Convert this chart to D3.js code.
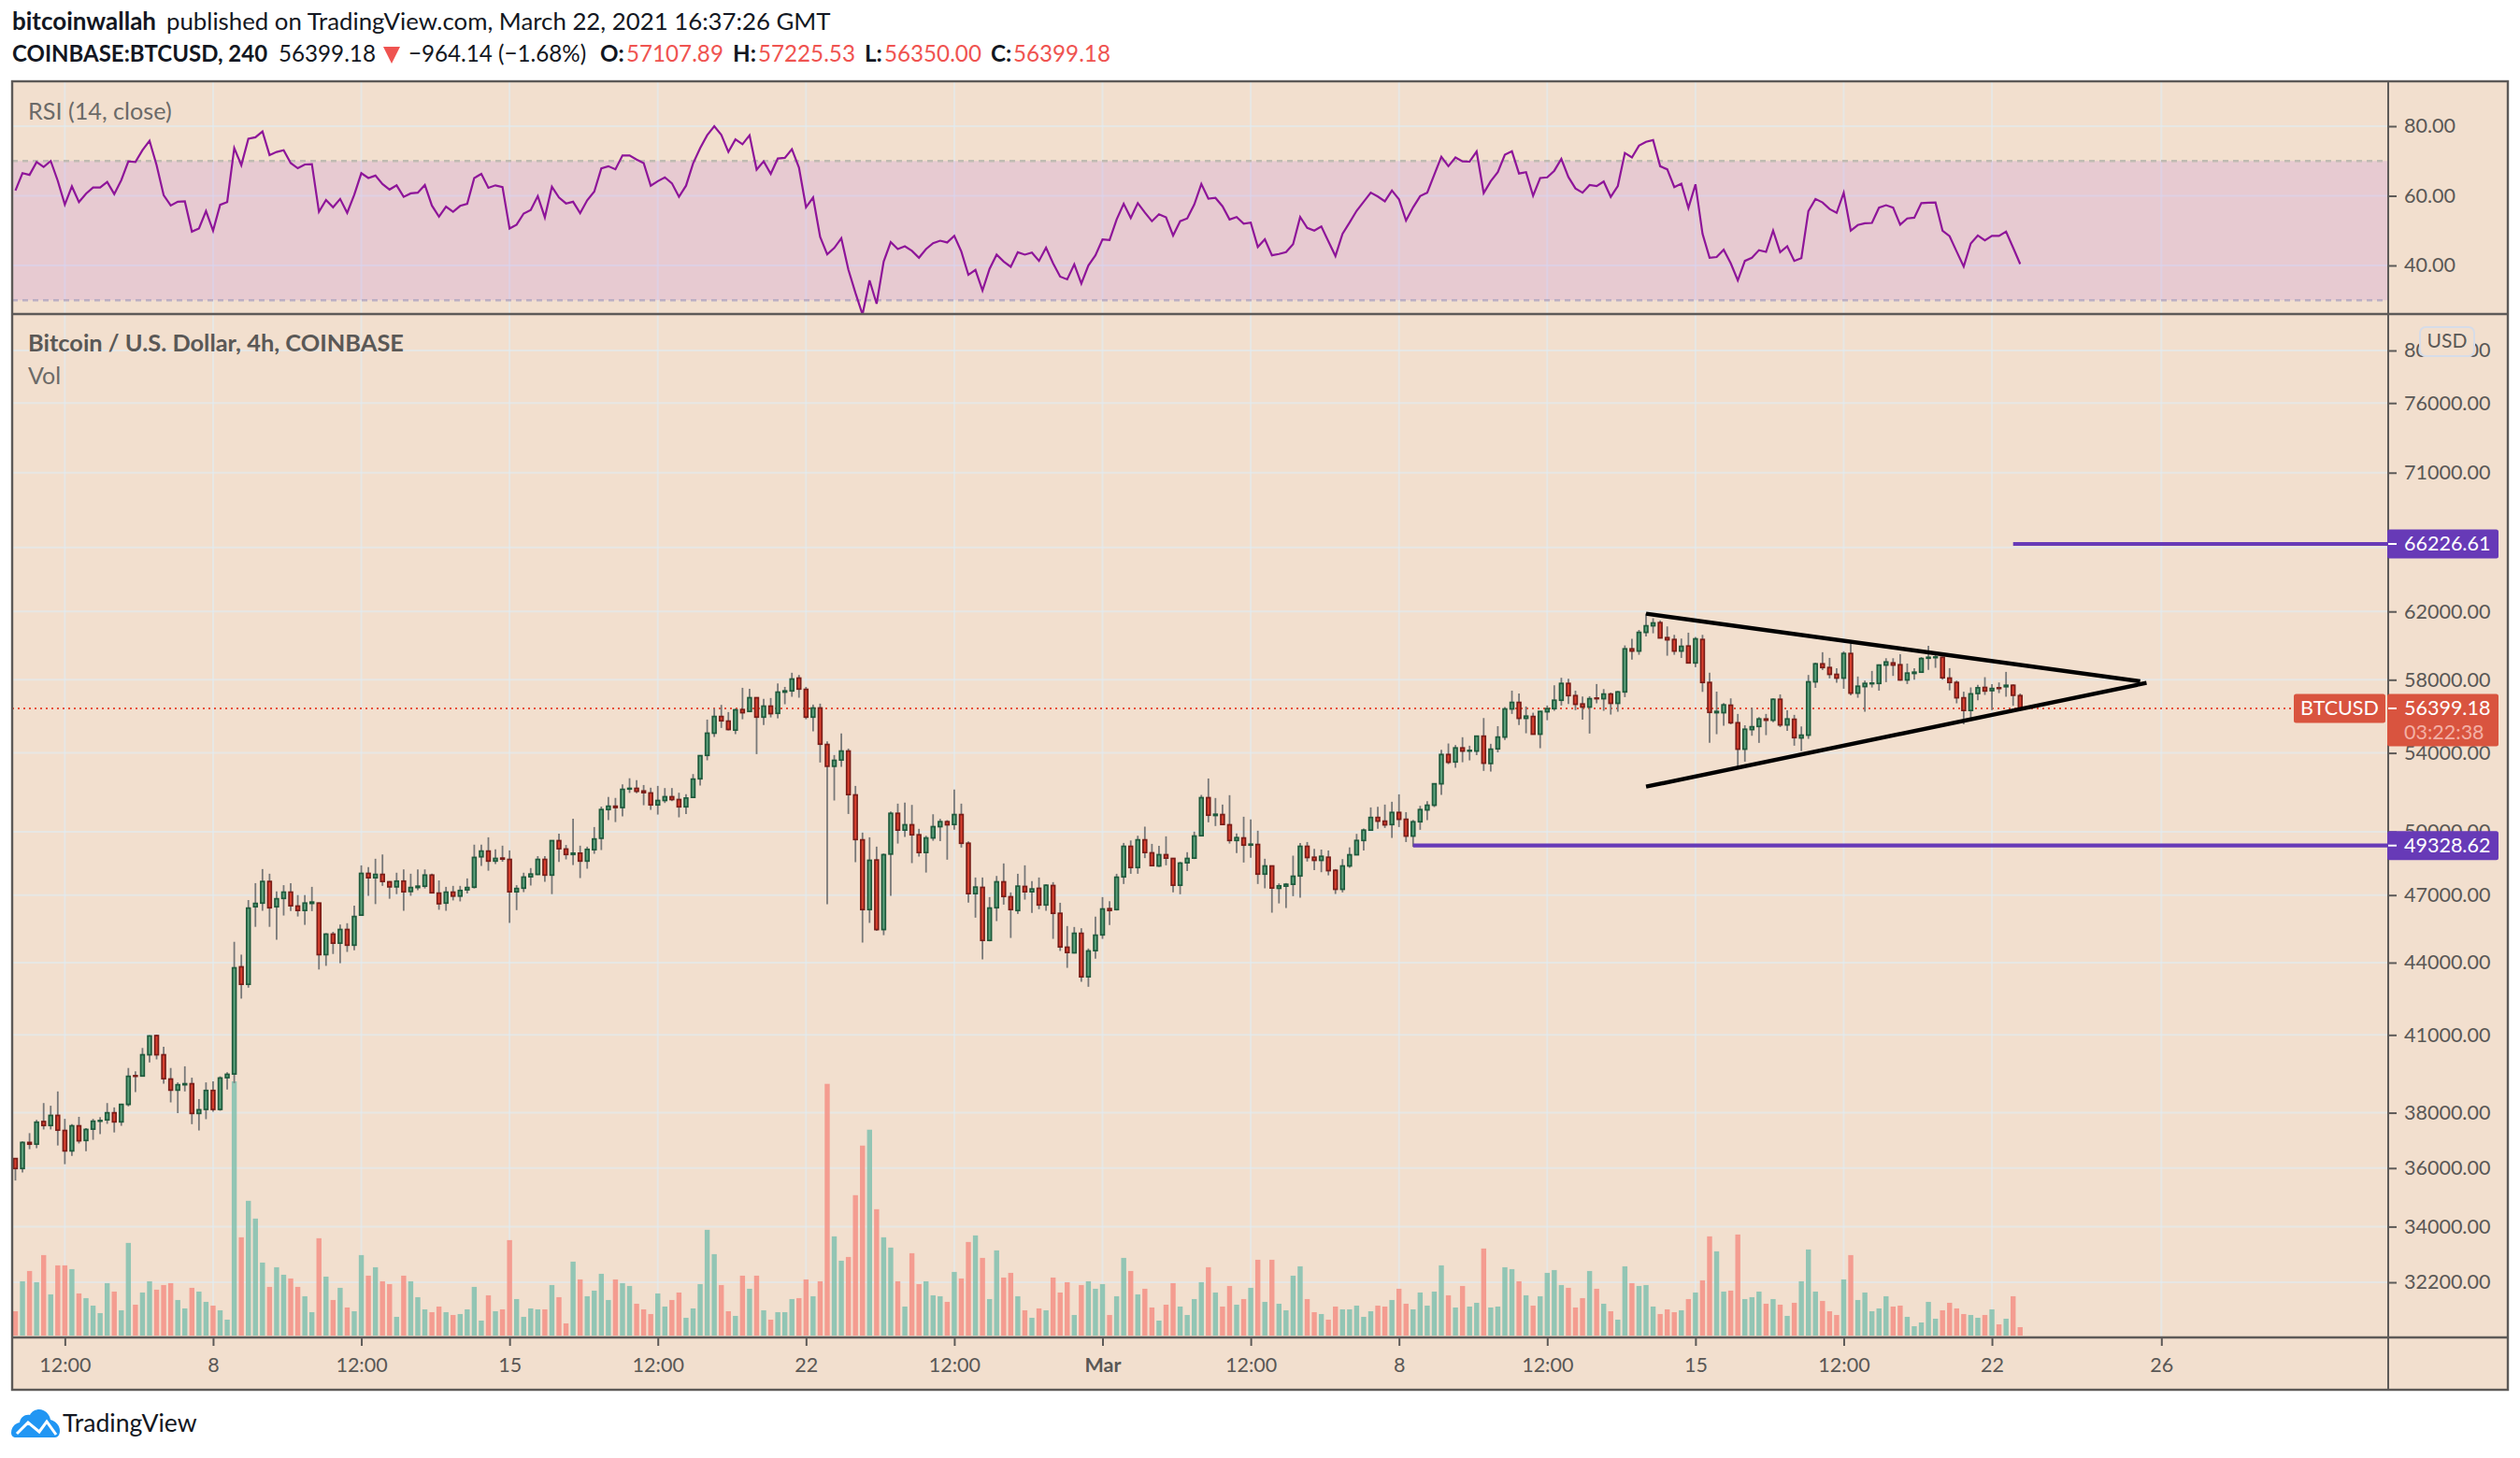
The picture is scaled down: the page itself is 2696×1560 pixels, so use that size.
<!DOCTYPE html>
<html>
<head>
<meta charset="utf-8">
<script src="https://cdnjs.cloudflare.com/ajax/libs/d3/7.8.5/d3.min.js"></script>
<style>
  html, body { margin: 0; padding: 0; background: #fff; }
  svg { display: block; }
  text { font-family: Lato, "Open Sans", sans-serif; }
  .domain { display: none; }
</style>
</head>
<body>
<div id="chart"></div>
<script>
// bars are 4h candles, index 0 = first candle on screen
const opens = [
36336,35985,36912,36851,37674,37529,37900,37347,36609,37517,
36984,37396,37686,37736,37998,37662,38310,39400,39387,40213,
40973,40213,39271,38848,39052,39091,37973,38123,38835,38123,
39323,39465,43819,43078,46467,46634,47629,46467,46846,47135,
46497,46299,46619,46634,44344,45241,44844,45447,44756,46087,
48006,47802,47959,47614,47379,47645,47166,47348,47410,47927,
47090,46634,47135,46953,47242,47363,48791,49064,48587,48729,
48666,47151,47318,47849,47959,48666,47927,49566,49161,48901,
48964,48587,49129,49680,51094,51261,51194,52129,52163,52029,
51929,51327,51548,51738,51596,51232,51706,52652,53871,55051,
55956,55704,55217,56336,56233,56992,55922,56525,56129,57304,
57373,58095,57459,55922,56422,54447,53300,53627,54100,51830,
49605,46339,48638,45443,48920,50906,50080,50340,49850,48995,
49697,50248,50493,50355,50845,49440,47066,47354,44965,46423,
47612,46922,46297,47397,47152,47311,46549,47440,46171,44666,
44423,45278,43394,44517,45208,46381,46339,47843,49292,48282,
49605,48980,48356,48891,48712,47454,48505,48727,49804,51690,
50799,50845,50340,49575,49697,49351,49381,47973,48356,47311,
47411,47498,47886,49292,48769,48621,48769,48150,47266,48356,
48887,49575,50078,50701,50519,50351,50950,50610,49788,50488,
51076,51311,52396,53916,53526,54265,54098,54098,54892,53445,
54215,54842,56370,56731,55855,55957,54997,56215,56387,56851,
57793,57109,56645,56473,56972,56937,57195,56680,57316,59777,
59649,60747,61139,61327,60436,60326,59649,59942,58962,60326,
57847,56164,56164,56576,55614,54198,55246,55414,55821,55752,
56903,55497,55803,54796,54946,57882,58909,58697,58307,58095,
59507,57247,57616,57775,57793,58838,58962,58856,57989,58360,
58431,59232,59268,59287,58095,57847,56987,56287,57227,57567,
57387,57547,57607,57687,57107.89];

const highs = [
36348,36948,37250,37736,38360,38260,38798,37773,37577,37848,
37432,37773,37835,38360,38198,38335,39697,39568,40480,40986,
41013,40532,39697,39142,39762,39323,38510,39142,39181,39375,
39529,44903,44344,46771,47551,48210,47990,47166,47457,47551,
46999,46999,47379,46660,45285,45344,45667,45726,46512,48383,
48304,48697,48901,47645,48037,48194,47990,48194,48194,47990,
47677,47379,47425,47425,47771,49372,49372,49728,49145,49323,
49096,47457,48037,48257,48822,48822,49582,49906,49356,50639,
49323,49275,50230,51244,51728,51678,52369,52680,52576,52334,
52196,52288,52178,52178,51941,51864,52897,53871,55788,56389,
56594,56198,56389,57546,57494,57010,56923,56975,57791,57597,
58398,58273,57597,56611,56663,54615,53888,55032,54230,52288,
49957,49728,49277,48950,50998,51390,51437,51327,50141,49804,
50860,50630,50570,52100,51390,49530,47814,47814,46907,47886,
48475,47123,47987,48386,47641,47814,47497,47598,46648,45600,
45558,45502,44612,46017,46907,46720,47987,49455,49575,49804,
50248,49410,49321,49774,48727,48549,49010,50003,51830,52668,
51674,51343,51817,49911,50737,50600,50049,48697,48356,47541,
47555,48845,49455,49500,49167,49137,49093,48209,48680,49241,
49895,50154,51201,51233,51343,51484,51860,50966,50580,51280,
51515,52412,54165,54499,54416,54833,54382,54922,55872,54482,
55430,56473,57386,57230,56507,56163,56250,56559,57687,58113,
58060,57386,57057,57075,57758,57475,57281,57368,59978,60363,
60893,61872,61590,61458,61101,60601,60381,60729,60473,60601,
58396,57333,56697,56955,56096,55480,56439,55924,56096,56955,
57178,56301,56044,55414,58272,58980,59580,59251,58661,59635,
60107,58184,57953,58502,58874,59232,59232,59470,58927,58661,
59300,59958,59470,59323,58661,57953,57327,57567,57707,58147,
57747,57847,58447,57747,57225.53];

const lows = [
35565,35845,36670,36706,37384,37384,36803,36137,36430,36875,
36597,37008,37214,37589,37275,37517,38235,38773,39362,39916,
40032,39091,38385,37986,38798,37577,37347,37760,38035,38073,
38873,39116,42480,42936,45564,46284,45564,44991,46071,46269,
46027,45652,46269,43705,43861,44373,43975,44462,44535,46060,
46968,46588,47425,46831,47044,46284,46968,47227,47303,47090,
46330,46284,46755,46710,47075,47303,48352,48132,48446,48556,
45740,46315,47135,47440,47927,47614,47044,48540,48666,48399,
47786,48226,48933,49112,50572,50473,50759,51929,51912,51311,
51077,50844,51421,51516,50707,50875,51695,52304,53611,54849,
55334,55200,55000,55805,56215,53937,55486,55905,55855,56629,
57044,56992,55805,55150,53497,46577,51548,53271,50875,48534,
44870,45740,45387,45195,46965,49425,49743,48490,48800,48045,
49560,49544,48653,50095,49232,46660,45975,44138,44924,45821,
46563,45073,46143,46792,46185,46353,46283,45032,44504,43775,
44395,43183,42973,44165,45032,45642,46297,47512,47987,47987,
48727,48356,48312,48386,47123,47037,48118,48683,49789,50462,
50278,50324,49425,48965,48519,48742,47512,47311,46199,46619,
46409,46950,46878,48564,48164,48061,47914,47051,47123,48268,
48872,49093,50047,50139,50184,49698,50230,49499,49271,50093,
50564,51217,51829,53412,53222,53510,53608,53883,53060,53025,
54031,54682,56095,55497,55046,54997,54249,55752,56267,56559,
56645,56301,55786,55032,56680,56267,56061,56215,57023,59159,
59433,60509,60692,60418,59378,59433,59250,58927,58715,57316,
54532,54997,55447,55530,53219,53543,54913,54532,54946,55648,
55380,55180,54382,54098,54746,57545,58555,58077,57829,57492,
57126,56989,56215,57563,57386,57864,58219,57953,57758,58007,
58395,58555,58679,58007,57404,56680,55533,55860,56847,57147,
56307,57247,57047,56547,56350];

const closes = [
35985,36912,36851,37650,37529,37900,37359,36609,37517,36972,
37384,37686,37710,37998,37662,38310,39375,39375,40213,40959,
40213,39284,38848,39052,39091,37973,38110,38835,38123,39310,
39452,43776,43078,46406,46619,47629,46421,46831,47135,46512,
46299,46634,46680,44344,45241,44844,45447,44756,46027,48006,
47802,47959,47629,47379,47645,47151,47348,47410,47927,47105,
46604,47135,46953,47211,47348,48760,49064,48587,48713,48681,
47151,47303,47833,47975,48666,47927,49566,49177,48901,48964,
48587,49145,49647,51094,51261,51194,52112,52163,52012,51946,
51328,51548,51738,51596,51232,51672,52636,53855,55051,55956,
55721,55250,56319,56164,56992,55922,56525,56112,57304,57373,
58042,57476,55922,56422,54464,53300,53611,54100,51846,49620,
46339,48623,45443,48891,50906,50080,50340,49850,48995,49697,
50248,50493,50340,50845,49440,47066,47368,44965,46409,47612,
46936,46339,47411,47152,47282,46549,47454,46171,44680,44436,
45278,43394,44504,45195,46367,46297,47828,49292,48282,49605,
48995,48371,48891,48727,47454,48490,48712,49789,51690,50814,
50860,50355,49575,49712,49351,49396,47973,48356,47325,47425,
47498,47872,49292,48757,48621,48813,48135,47266,48356,48887,
49575,50078,50701,50519,50336,50950,50610,49788,50488,51092,
51311,52396,53916,53510,54265,54098,54132,54892,53461,54198,
54842,56370,56731,55855,55975,54997,56233,56387,56851,57793,
57109,56627,56473,56937,56937,57195,56680,57316,59777,59649,
60747,61139,61308,60418,60308,59649,59924,58962,60363,57847,
56181,56233,56594,55614,54198,55263,55397,55821,55752,56903,
55497,55821,54812,54946,57882,58909,58697,58307,58095,59507,
57247,57634,57793,57811,58838,59016,58838,57989,58378,58431,
59214,59287,59305,58113,57847,56989,56287,57207,57547,57367,
57507,57507,57687,57127,56399.18];

const volumes = [
78,174,207,171,258,132,225,225,213,135,
120,96,72,168,141,81,297,99,138,174,
147,162,168,114,87,153,141,108,96,81,
51,815,315,432,375,234,156,219,195,183,
156,126,75,312,189,114,153,90,78,258,
192,219,174,165,60,192,174,123,84,75,
93,75,66,69,84,156,48,129,78,84,
306,117,60,87,84,84,162,123,39,237,
180,126,144,198,114,180,168,159,102,84,
69,135,93,114,138,57,87,165,339,261,
162,78,63,192,150,192,81,51,75,75,
117,120,180,126,174,807,318,240,252,450,
609,660,405,315,282,174,93,264,165,174,
129,126,108,204,183,300,321,249,117,273,
186,201,126,81,57,87,81,186,138,171,
66,162,174,150,165,66,126,249,207,132,
150,90,48,99,168,93,66,117,171,219,
138,93,159,99,117,153,243,108,243,102,
81,192,222,117,75,69,51,93,84,84,
96,60,78,96,93,114,150,102,84,138,
96,141,225,129,90,159,93,105,279,90,
93,219,213,174,129,96,126,201,210,162,
153,90,120,207,150,102,78,51,222,168,
159,162,93,69,84,75,81,117,138,177,
318,270,141,144,324,117,123,141,102,117,
99,63,105,174,276,141,111,78,66,180,
258,114,138,78,87,126,93,96,60,30,
42,108,54,81,105,87,69,66,57,66,
84,36,54,126,27];

const rsiValues = [
61.5,66.5,66.0,69.7,68.3,70.0,64.3,57.5,62.7,58.2,
60.6,62.4,62.4,64.0,60.5,64.5,69.9,69.7,73.1,75.8,
68.8,60.2,57.2,58.3,58.4,49.7,50.6,55.6,50.0,57.4,
58.2,73.7,68.8,76.4,76.8,78.5,71.7,72.6,73.1,69.4,
67.9,69.0,69.1,55.4,58.8,56.7,59.1,55.1,60.3,66.5,
65.1,65.8,63.4,61.8,63.0,59.7,60.7,60.9,63.1,57.2,
54.0,56.9,55.4,57.1,57.7,65.1,66.3,62.3,63.0,62.5,
50.6,51.7,54.9,55.9,59.9,53.8,62.6,59.5,57.8,58.3,
55.0,58.7,61.2,67.9,68.5,67.6,71.6,71.6,70.4,69.4,
62.9,64.2,65.3,63.6,59.7,62.9,69.3,73.7,77.4,80.0,
77.5,72.6,76.2,74.8,77.4,67.5,69.9,66.3,70.7,70.9,
73.4,68.1,56.7,59.5,48.2,43.2,45.0,47.8,38.8,32.1,
25.9,35.7,29.0,41.1,46.7,44.7,45.5,44.2,42.2,44.7,
46.4,47.1,46.6,48.5,44.0,37.3,38.7,32.8,39.0,43.1,
41.1,39.6,43.8,43.1,43.7,41.3,45.1,40.6,36.8,36.0,
40.3,34.8,40.0,42.9,47.5,47.3,53.2,57.7,53.6,57.9,
55.2,52.7,54.7,53.8,48.6,52.7,53.5,57.5,63.4,59.2,
59.4,57.0,53.2,53.9,52.0,52.3,45.3,47.5,42.9,43.3,
43.8,46.1,53.9,50.8,50.0,51.2,46.9,42.7,49.1,52.3,
55.7,58.3,60.9,59.8,58.4,61.5,59.0,52.9,56.7,59.9,
60.9,66.1,71.2,68.5,71.0,69.9,69.8,72.7,60.8,64.2,
66.8,71.8,72.8,66.4,66.8,60.0,65.1,65.3,67.2,70.6,
65.4,62.1,60.9,63.1,62.8,64.1,59.7,62.8,72.3,71.0,
74.4,75.5,76.0,68.5,67.6,62.5,63.5,56.5,63.3,49.1,
42.2,42.4,44.5,40.6,35.7,41.3,42.2,44.4,43.9,50.0,
43.8,45.5,41.3,42.1,55.6,59.1,58.1,56.2,55.1,60.9,
50.0,51.6,52.1,52.2,56.6,57.3,56.6,51.7,53.5,53.7,
57.9,58.0,58.1,50.0,48.4,44.0,39.7,46.3,48.6,47.2,
48.5,48.5,49.7,45.1,40.4];

const timeTickBars = [7,28,49,70,91,112,133,154,175,196,217,238,259,280,304];
const timeTickLabels = ["12:00","8","12:00","15","12:00","22","12:00","Mar","12:00","8","12:00","15","12:00","22","26"];
const priceTicks = [80000,76000,71000,66000,62000,58000,54000,50000,47000,44000,41000,38000,36000,34000,32200];
const rsiTicks = [80,60,40];
const rsiBounds = [70,30];

const lastPrice = 56399.18;
const hLevels = [
  {price:66226.61, fromBar:283},
  {price:49328.62, fromBar:198}
];
const trendLines = [
  {bar1:231, p1:61865, bar2:301, p2:57912},
  {bar1:231, p1:52250, bar2:301.9, p2:57824}
];

const W = 2696, H = 1560;
const frame = {left:13, right:2683, top:87, rsiBottom:336, axisY:1431, bottom:1487, priceAxis:2555};
const bg = "#f2dfce", frameCol = "#5d5a58", txtCol = "#5a5856", darkTxt = "#131722";
const upFill = "#5a9f7a", upLine = "#1f5a3c", downFill = "#d8402f", downLine = "#7a1d18";
const upVol = "#8bc4b2", downVol = "#f3988c", red = "#ef5350", boxRed = "#d9543f", purple = "#673ab7";

let svg = d3.select("#chart").append("svg").attr("width",W).attr("height",H);
svg.append("rect").attr("width",W).attr("height",H).attr("fill","#fff");
svg.append("rect").attr("x",frame.left).attr("y",frame.top)
  .attr("width",frame.right-frame.left).attr("height",frame.bottom-frame.top).attr("fill",bg);

let x = d3.scaleLinear().domain([0,284]).range([16.5,16.5+284*7.552]);
let y = d3.scaleLog().domain([32200,80000]).range([1372,375]);
let yRsi = d3.scaleLinear().domain([40,80]).range([284,135]);
let yVol = d3.scaleLinear().domain([0,815]).range([1429,1157]);

let defs = svg.append("defs");
defs.append("clipPath").attr("id","rsiClip").append("rect")
  .attr("x",frame.left).attr("y",frame.top).attr("width",frame.priceAxis-frame.left).attr("height",frame.rsiBottom-frame.top);
defs.append("clipPath").attr("id","mainClip").append("rect")
  .attr("x",frame.left).attr("y",frame.rsiBottom).attr("width",frame.priceAxis-frame.left).attr("height",frame.axisY-frame.rsiBottom);

let grid = svg.append("g").attr("stroke","#e1ecf2").attr("stroke-opacity",0.62);
grid.selectAll(".gx").data(timeTickBars).enter().append("line")
  .attr("x1",d=>x(d)).attr("x2",d=>x(d)).attr("y1",frame.top).attr("y2",frame.axisY).attr("stroke-width",2);
grid.selectAll(".gy").data(priceTicks).enter().append("line")
  .attr("x1",frame.left).attr("x2",frame.priceAxis).attr("y1",d=>y(d)).attr("y2",d=>y(d)).attr("stroke-width",2);
grid.selectAll(".gr").data(rsiTicks).enter().append("line")
  .attr("x1",frame.left).attr("x2",frame.priceAxis).attr("y1",d=>yRsi(d)).attr("y2",d=>yRsi(d)).attr("stroke-width",2);

// rsi band on top of the grid, that is what turns the grid lavender inside it
svg.append("rect").attr("x",frame.left).attr("width",frame.priceAxis-frame.left)
  .attr("y",yRsi(rsiBounds[0])).attr("height",yRsi(rsiBounds[1])-yRsi(rsiBounds[0]))
  .attr("fill","rgb(192,118,226)").attr("fill-opacity",0.2);

svg.selectAll(".bound").data(rsiBounds).enter().append("line")
  .attr("x1",frame.left).attr("x2",frame.priceAxis).attr("y1",d=>yRsi(d)).attr("y2",d=>yRsi(d))
  .attr("stroke",d=>d==70?"#c0bbb2":"#bcafc3").attr("stroke-width",2.4).attr("stroke-dasharray","6 5");

svg.append("path").datum(rsiValues).attr("clip-path","url(#rsiClip)")
  .attr("fill","none").attr("stroke","#8e1599").attr("stroke-width",2.2)
  .attr("d",d3.line().x((d,i)=>x(i)).y(d=>yRsi(d)));

// volume sits behind the candles
let main = svg.append("g").attr("clip-path","url(#mainClip)");
main.selectAll(".vol").data(volumes).enter().append("rect")
  .attr("x",(d,i)=>x(i)-2.7).attr("width",5.4)
  .attr("y",d=>yVol(d)).attr("height",d=>yVol(0)-yVol(d))
  .attr("fill",(d,i)=>closes[i]>=opens[i]?upVol:downVol).attr("fill-opacity",0.94);

// last price dotted line
main.append("line").attr("x1",frame.left).attr("x2",2454).attr("y1",y(lastPrice)).attr("y2",y(lastPrice))
  .attr("stroke","#e8503a").attr("stroke-width",2).attr("stroke-dasharray","2 4");

let bars = d3.range(opens.length);
main.selectAll(".wick").data(bars).enter().append("line")
  .attr("x1",i=>x(i)).attr("x2",i=>x(i)).attr("y1",i=>y(highs[i])).attr("y2",i=>y(lows[i]))
  .attr("stroke","#787878").attr("stroke-width",1.8);
main.selectAll(".body").data(bars).enter().append("rect")
  .attr("x",i=>x(i)-1.9).attr("width",3.8)
  .attr("y",i=>y(Math.max(opens[i],closes[i])))
  .attr("height",i=>Math.max(0.5,Math.abs(y(opens[i])-y(closes[i]))))
  .attr("fill",i=>closes[i]>=opens[i]?upFill:downFill)
  .attr("stroke",i=>closes[i]>=opens[i]?upLine:downLine).attr("stroke-width",1.7);

main.selectAll(".level").data(hLevels).enter().append("line")
  .attr("x1",d=>x(d.fromBar)).attr("x2",frame.priceAxis).attr("y1",d=>y(d.price)).attr("y2",d=>y(d.price))
  .attr("stroke",purple).attr("stroke-width",4.2);
main.selectAll(".trend").data(trendLines).enter().append("line")
  .attr("x1",d=>x(d.bar1)).attr("x2",d=>x(d.bar2)).attr("y1",d=>y(d.p1)).attr("y2",d=>y(d.p2))
  .attr("stroke","#000").attr("stroke-width",4.4);

// axes
let priceAxis = d3.axisRight(y).tickValues(priceTicks).tickSize(9).tickPadding(8).tickFormat(d3.format(".2f"));
let rsiAxis = d3.axisRight(yRsi).tickValues(rsiTicks).tickSize(9).tickPadding(8).tickFormat(d3.format(".2f"));
let timeAxis = d3.axisBottom(x).tickValues(timeTickBars).tickSize(9).tickPadding(13)
  .tickFormat((d,i)=>timeTickLabels[i]);

[svg.append("g").attr("transform","translate("+frame.priceAxis+",0)").call(priceAxis),
 svg.append("g").attr("transform","translate("+frame.priceAxis+",0)").call(rsiAxis),
 svg.append("g").attr("transform","translate(0,"+frame.axisY+")").call(timeAxis)].forEach(a=>{
  a.selectAll("line").attr("stroke",frameCol).attr("stroke-width",2);
  a.selectAll("text").attr("fill",txtCol).attr("font-size",21.5).attr("font-family","Lato, sans-serif");
});
svg.selectAll("text").filter(function(){return this.textContent=="Mar"}).attr("font-weight",700);

// frame lines
let border = svg.append("g").attr("stroke",frameCol).attr("fill","none");
border.append("rect").attr("x",frame.left).attr("y",frame.top)
  .attr("width",frame.right-frame.left).attr("height",frame.bottom-frame.top).attr("stroke-width",2.4);
border.append("line").attr("x1",frame.left).attr("x2",frame.right).attr("y1",frame.rsiBottom).attr("y2",frame.rsiBottom).attr("stroke-width",2.6);
border.append("line").attr("x1",frame.left).attr("x2",frame.right).attr("y1",frame.axisY).attr("y2",frame.axisY).attr("stroke-width",2.4);
border.append("line").attr("x1",frame.priceAxis).attr("x2",frame.priceAxis).attr("y1",frame.top).attr("y2",frame.bottom).attr("stroke-width",2);

// price tags on the scale
function tag(x0,y0,w,h,fill){
  svg.append("rect").attr("x",x0).attr("y",y0).attr("width",w).attr("height",h).attr("rx",2.5).attr("fill",fill);
}
function label(str,x0,y0,opt){
  opt = opt||{};
  return svg.append("text").attr("x",x0).attr("y",y0).text(str)
    .attr("font-size",opt.size||21.5).attr("font-weight",opt.weight||400)
    .attr("fill",opt.fill||"#fff").attr("text-anchor",opt.anchor||"start");
}
hLevels.forEach(d=>{
  let py = y(d.price);
  tag(frame.priceAxis-1,py-15.5,119,31,purple);
  svg.append("line").attr("x1",frame.priceAxis).attr("x2",frame.priceAxis+9).attr("y1",py).attr("y2",py).attr("stroke","#fff").attr("stroke-width",2);
  label(d.price.toFixed(2),frame.priceAxis+17,py+7.5);
});
let lastY = y(lastPrice);
tag(2454,lastY-15.5,98,31,boxRed);
label("BTCUSD",2503,lastY+7.5,{anchor:"middle"});
tag(frame.priceAxis-1,lastY-15.5,119,56,boxRed);
svg.append("line").attr("x1",frame.priceAxis).attr("x2",frame.priceAxis+9).attr("y1",lastY).attr("y2",lastY).attr("stroke","#fff").attr("stroke-width",2);
label(lastPrice.toFixed(2),frame.priceAxis+17,lastY+7.5);
label("03:22:38",frame.priceAxis+17,lastY+33,{fill:"#f3b0a5"});

svg.append("rect").attr("x",2589).attr("y",350).attr("width",58).attr("height",31).attr("rx",6)
  .attr("fill",bg).attr("stroke","#d6dce8").attr("stroke-width",2);
label("USD",2618,372,{anchor:"middle",fill:txtCol,size:21});

// header text
label("bitcoinwallah",13,32,{size:26,weight:700,fill:darkTxt});
label("published on TradingView.com, March 22, 2021 16:37:26 GMT",178,32,{size:25.8,fill:darkTxt});
label("COINBASE:BTCUSD, 240",13,66,{size:24,weight:700,fill:darkTxt});
label("56399.18",298,66,{size:24.2,fill:darkTxt});
svg.append("path").attr("d",d3.line()([[410,50],[428,50],[419,68]])+"Z").attr("fill",red);
label("−964.14 (−1.68%)",437,66,{size:24.2,fill:darkTxt});
[["O:","57107.89",642,670],["H:","57225.53",784,811],["L:","56350.00",925,946],["C:","56399.18",1060,1084]].forEach(d=>{
  label(d[0],d[2],66,{size:24.2,weight:700,fill:darkTxt});
  label(d[1],d[3],66,{size:24.2,fill:red});
});

label("RSI (14, close)",30,128,{size:25.2,fill:"#6b6a68"});
label("Bitcoin / U.S. Dollar, 4h, COINBASE",30,376,{size:25.4,weight:700,fill:txtCol});
label("Vol",30,411,{size:25,fill:"#6b6a68"});

// logo
let logo = svg.append("g").attr("transform","translate(12,1508)");
logo.append("path").attr("fill","#2196f3")
  .attr("d","M0 25C0 19 4 15 9 14C10 8 15 5 20 6C22 2 26 0 30 0C36 0 41 5 42 11C47 12 52 17 52 23C52 27 50 30 47 30L5 30C2 30 0 28 0 25Z");
logo.append("path").attr("fill","none").attr("stroke","#fff").attr("stroke-width",3)
  .attr("d","M6 26L18 14L30 24L38 13L48 27");
label("TradingView",67,1532,{size:26.6,fill:darkTxt});
</script>
</body>
</html>
